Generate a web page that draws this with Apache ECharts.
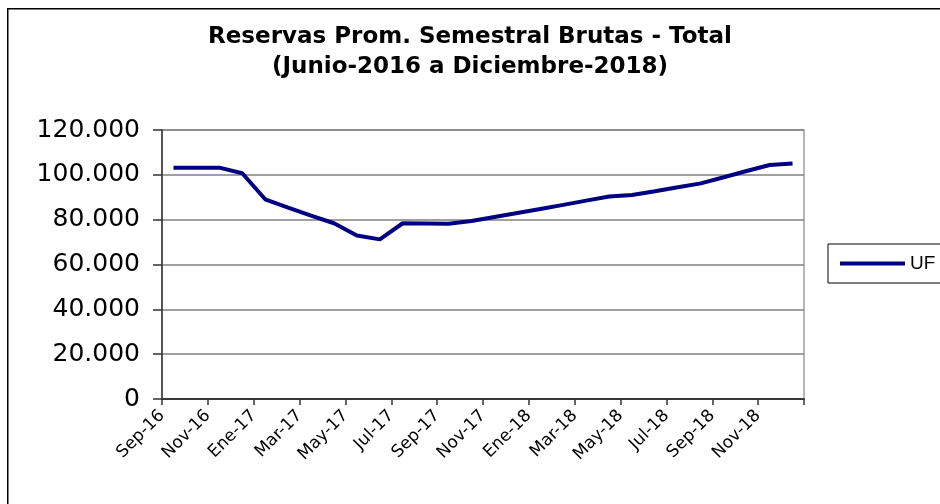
<!DOCTYPE html>
<html>
<head>
<meta charset="utf-8">
<script src="https://cdn.jsdelivr.net/npm/echarts@6/dist/echarts.min.js"></script>
<style>html,body{margin:0;padding:0;background:#fff;}#c{width:940px;height:504px;}</style>
</head>
<body>
<div id="c"></div>
<script>
const categories = ['Sep-16','Oct-16','Nov-16','Dic-16','Ene-17','Feb-17','Mar-17','Abr-17','May-17','Jun-17','Jul-17','Ago-17','Sep-17','Oct-17','Nov-17','Dic-17','Ene-18','Feb-18','Mar-18','Abr-18','May-18','Jun-18','Jul-18','Ago-18','Sep-18','Oct-18','Nov-18','Dic-18'];
const ufValues = [103200,103200,103200,100700,89100,85400,81800,78400,72900,71200,78400,78300,78200,79400,81200,83000,84800,86600,88500,90300,91000,92700,94500,96200,98900,101700,104400,105100];
const seriesName = 'UF';
const titleLines = ['Reservas Prom. Semestral Brutas - Total', '(Junio-2016 a Diciembre-2018)'];

const chart = echarts.init(document.getElementById('c'), null, {renderer: 'canvas'});
const fmt = v => String(v).replace(/\B(?=(\d{3})+(?!\d))/g, '.');
chart.setOption({
  animation: false,
  backgroundColor: '#fff',
  graphic: [{
    type: 'rect', left: 7, top: 8, z: -1,
    shape: {width: 1000, height: 1000},
    style: {fill: '#fff', stroke: '#000', lineWidth: 1.5}
  }],
  title: {
    text: titleLines.join('\n'),
    left: 'center', top: 17,
    textStyle: {fontFamily: 'DejaVu Sans', fontWeight: 'bold', fontSize: 23, lineHeight: 30, color: '#000'}
  },
  legend: {
    data: [{name: seriesName, icon: 'rect'}],
    left: 828, top: 244,
    orient: 'vertical',
    itemWidth: 65, itemHeight: 4,
    padding: [10, 30, 10, 12],
    borderColor: '#000', borderWidth: 1,
    backgroundColor: '#fff',
    textStyle: {fontFamily: 'Liberation Sans', fontSize: 19, color: '#000'}
  },
  grid: {left: 162, right: 136, top: 130, bottom: 105, show: true, borderColor: '#a0a0a0', borderWidth: 1.5},
  xAxis: [{
    type: 'category', data: categories, boundaryGap: true,
    axisLine: {show: true, lineStyle: {color: '#333', width: 1.5}},
    axisTick: {show: false}, axisLabel: {show: false}, splitLine: {show: false}
  }, {
    type: 'value', min: 0, max: categories.length, interval: 2, position: 'bottom',
    axisLine: {show: true, lineStyle: {color: '#333', width: 1.5}},
    axisTick: {show: true, length: 6, lineStyle: {color: '#333', width: 1.5}},
    splitLine: {show: false},
    axisLabel: {
      rotate: 45, margin: 14, color: '#000', fontFamily: 'DejaVu Sans', fontSize: 17,
      formatter: v => categories[v] || ''
    }
  }],
  yAxis: {
    type: 'value', min: 0, max: 120000, interval: 20000,
    axisLine: {show: true, lineStyle: {color: '#333', width: 1.5}},
    axisTick: {show: true, length: 9, lineStyle: {color: '#333', width: 1.5}},
    splitLine: {show: true, lineStyle: {color: '#808080', width: 1.5}},
    axisLabel: {margin: 22, color: '#000', fontFamily: 'DejaVu Sans', fontSize: 25, formatter: fmt}
  },
  series: [{
    name: seriesName, type: 'line', xAxisIndex: 0, data: ufValues,
    symbol: 'none', smooth: false,
    lineStyle: {color: '#000080', width: 4},
    itemStyle: {color: '#000080'}
  }]
});
</script>
</body>
</html>
